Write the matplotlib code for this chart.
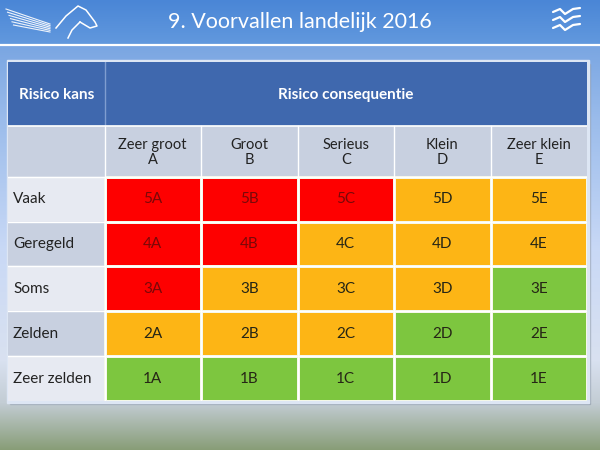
import numpy as np
import matplotlib.pyplot as plt
from matplotlib.colors import ListedColormap, to_rgb
from matplotlib.patches import Rectangle

plt.rcParams['font.family'] = ['Lato', 'DejaVu Sans']

title = '9. Voorvallen landelijk 2016'
kans_header = 'Risico kans'
cons_header = 'Risico consequentie'
kans = ['Vaak', 'Geregeld', 'Soms', 'Zelden', 'Zeer zelden']
kans_nr = [5, 4, 3, 2, 1]
consequentie = ['Zeer groot', 'Groot', 'Serieus', 'Klein', 'Zeer klein']
letters = ['A', 'B', 'C', 'D', 'E']
# 0 = groen, 1 = oranje, 2 = rood
niveau = [[2, 2, 2, 1, 1],
          [2, 2, 1, 1, 1],
          [2, 1, 1, 1, 0],
          [1, 1, 1, 0, 0],
          [0, 0, 0, 0, 0]]

W, H = 600, 450
fig = plt.figure(figsize=(6, 4.5), dpi=100)

# slide background
bg = fig.add_axes([0, 0, 1, 1])
stops_y = [0, 44, 46, 120, 250, 360, 402, 450]
stops_c = ['#4a86d6', '#6299de', '#7aa6e2', '#9bbceb', '#c9d9f6', '#d9e1f0', '#c3cdd4', '#879c76']
ys = np.arange(H)
rgb = np.array([to_rgb(c) for c in stops_c])
grad = np.stack([np.interp(ys, stops_y, rgb[:, k]) for k in range(3)], axis=-1)
img = np.repeat(grad[:, None, :], W, axis=1)
bg.imshow(img, extent=[0, W, H, 0], aspect='auto', interpolation='bilinear')
bg.set_xlim(0, W)
bg.set_ylim(H, 0)
bg.axis('off')
bg.plot([0, W], [44.5, 44.5], color='white', lw=1.6)
bg.text(W / 2, 22, title, color='white', fontsize=15.5, ha='center', va='center')

# logo decoration
for i in range(6):
    bg.plot([6 + i * 1.5, 50], [9 + i * 3.2, 24 + i * 1.6], color='white', lw=0.8, alpha=0.9)
bg.plot([56, 66, 78, 86, 95, 97, 90, 80], [28, 16, 6, 10, 22, 26, 28, 22], color='white', lw=1.1)
bg.plot([80, 72, 68], [22, 30, 38], color='white', lw=1.1)
for k in range(3):
    yy = 12 + k * 8
    bg.plot([553, 560, 565, 573, 580], [yy, yy - 3, yy + 2, yy - 3, yy - 4],
            color='white', lw=1.6, solid_capstyle='round')

# table frame and shadow
tx0, tx1, ty0, ty1 = 8, 587, 62, 401
bg.add_patch(Rectangle((tx0 + 2, ty0 + 2), tx1 - tx0 + 1, ty1 - ty0 + 1, color='#8a96a6', alpha=0.5, zorder=1))
bg.add_patch(Rectangle((tx0 - 1.5, ty0 - 2), tx1 - tx0 + 3, ty1 - ty0 + 3.5, color='#dde6f4', zorder=2))

ax = fig.add_axes([tx0 / W, 1 - ty1 / H, (tx1 - tx0) / W, (ty1 - ty0) / H])
row_h = [64, 51] + [45] * len(kans)
y_edges = np.concatenate([[0], np.cumsum(row_h)])
x_edges = np.linspace(0, tx1 - tx0, len(letters) + 2)

# header row
ax.add_patch(Rectangle((0, 0), x_edges[-1], row_h[0], color='#3f68ae'))
ax.plot([x_edges[1], x_edges[1]], [0, row_h[0]], color='#7f9dd0', lw=1)
ax.text(x_edges[1] / 2, row_h[0] / 2 + 1, kans_header, color='white', fontsize=11,
        fontweight='bold', ha='center', va='center')
ax.text((x_edges[1] + x_edges[-1]) / 2, row_h[0] / 2 + 1, cons_header, color='white',
        fontsize=11, fontweight='bold', ha='center', va='center')

# sub header
ax.add_patch(Rectangle((0, y_edges[1]), x_edges[-1], row_h[1], color='#c8d0e0'))
for j, (c, l) in enumerate(zip(consequentie, letters)):
    xc = (x_edges[j + 1] + x_edges[j + 2]) / 2
    ax.text(xc, y_edges[1] + row_h[1] / 2 + 1, c + '\n' + l, color='#222222', fontsize=10.5,
            ha='center', va='center', linespacing=1.1)

# row labels
for i, k in enumerate(kans):
    y0 = y_edges[i + 2]
    ax.add_patch(Rectangle((0, y0), x_edges[1], row_h[i + 2],
                           color='#e7eaf2' if i % 2 == 0 else '#c8d0e0'))
    ax.text(5, y0 + row_h[i + 2] / 2, k, color='#222222', fontsize=11, ha='left', va='center')

# risk matrix
cmap = ListedColormap(['#7dc63f', '#fdb515', '#fe0000'])
ax.pcolormesh(x_edges[1:], y_edges[2:], np.array(niveau), cmap=cmap, vmin=-0.5, vmax=2.5,
              edgecolors='#f4f7e8', linewidth=1.0)
for i, n in enumerate(kans_nr):
    for j, l in enumerate(letters):
        xc = (x_edges[j + 1] + x_edges[j + 2]) / 2
        yc = (y_edges[i + 2] + y_edges[i + 3]) / 2
        col = '#7a0808' if niveau[i][j] == 2 else '#262616'
        ax.text(xc, yc, f'{n}{l}', color=col, fontsize=11, ha='center', va='center')

# white grid lines
for x in x_edges[1:-1]:
    ax.plot([x, x], [y_edges[1], y_edges[-1]], color='white', lw=1)
for y in y_edges[1:-1]:
    ax.plot([0, x_edges[-1]], [y, y], color='white', lw=1.2 if y == y_edges[1] else 1)

ax.set_xlim(0, x_edges[-1])
ax.set_ylim(y_edges[-1], 0)
ax.axis('off')

fig.savefig('out.png', dpi=100)
